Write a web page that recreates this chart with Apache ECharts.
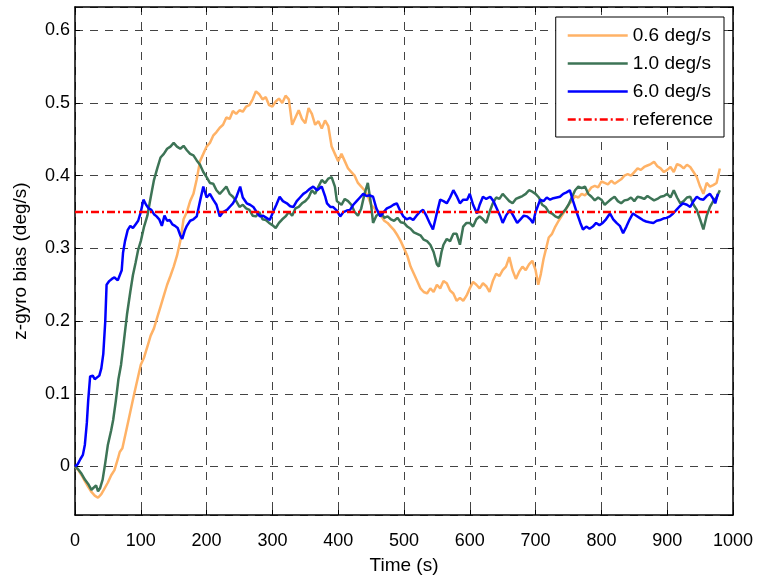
<!DOCTYPE html>
<html><head><meta charset="utf-8">
<script src="https://cdn.jsdelivr.net/npm/echarts@6/dist/echarts.min.js"></script>
<style>html,body{margin:0;padding:0;background:#fff}#c{width:757px;height:580px}</style>
</head><body><div id="c"></div>
<script>
const xTicks = [0,100,200,300,400,500,600,700,800,900,1000];
const yTicks = [0,0.1,0.2,0.3,0.4,0.5,0.6];
const seriesNames = ['0.6 deg/s','1.0 deg/s','6.0 deg/s','reference'];

const tOrange = [0,5,10,15,20,25,30,35,40,45,50,55,60,65,68,72,78,84,90,95,100,105,110,115,120,125,130,135,140,145,150,155,160,165,170,175,180,185,190,195,200,205,210,215,220,225,230,235,240,245,250,255,260,265,270,275,280,285,290,295,300,305,310,315,320,325,330,335,340,345,350,355,360,365,370,375,380,385,390,395,400,405,410,415,420,425,430,435,440,445,450,455,460,465,470,475,480,485,490,495,500,505,510,515,520,525,530,535,540,545,550,555,560,565,570,575,580,585,590,595,600,605,610,615,620,625,630,635,640,645,650,655,660,665,670,675,680,685,690,695,700,704,708,712,716,720,725,730,735,740,745,750,755,760,765,770,775,780,785,790,795,800,805,810,815,820,825,830,835,840,845,850,855,860,865,870,875,880,885,890,895,900,905,910,915,920,925,930,935,940,945,950,955,960,965,970,975,980];
const vOrange = [0,-0.005,-0.012,-0.02,-0.028,-0.035,-0.04,-0.043,-0.038,-0.03,-0.022,-0.012,-0.005,0.01,0.02,0.025,0.05,0.075,0.1,0.12,0.14,0.15,0.165,0.18,0.19,0.205,0.22,0.235,0.25,0.262,0.275,0.29,0.31,0.34,0.35,0.365,0.375,0.395,0.42,0.43,0.44,0.445,0.455,0.46,0.466,0.47,0.48,0.478,0.489,0.485,0.49,0.488,0.495,0.497,0.505,0.516,0.512,0.505,0.508,0.497,0.495,0.502,0.506,0.5,0.51,0.505,0.47,0.48,0.49,0.478,0.472,0.493,0.485,0.47,0.475,0.465,0.476,0.468,0.44,0.43,0.42,0.43,0.42,0.41,0.405,0.4,0.39,0.385,0.38,0.372,0.36,0.355,0.35,0.345,0.338,0.335,0.33,0.325,0.318,0.31,0.3,0.29,0.275,0.265,0.255,0.245,0.24,0.238,0.245,0.24,0.25,0.245,0.255,0.252,0.242,0.238,0.228,0.232,0.228,0.235,0.245,0.254,0.25,0.245,0.252,0.248,0.24,0.255,0.265,0.262,0.27,0.275,0.288,0.27,0.258,0.268,0.275,0.27,0.278,0.283,0.27,0.25,0.265,0.285,0.3,0.315,0.32,0.33,0.338,0.345,0.352,0.36,0.365,0.372,0.37,0.375,0.373,0.378,0.384,0.386,0.384,0.392,0.39,0.388,0.393,0.389,0.392,0.395,0.4,0.402,0.4,0.405,0.41,0.408,0.412,0.414,0.416,0.419,0.413,0.41,0.405,0.408,0.412,0.405,0.416,0.414,0.41,0.415,0.412,0.405,0.398,0.385,0.375,0.39,0.385,0.387,0.39,0.41];

const tGreen = [0,5,10,15,20,25,28,32,35,38,42,46,50,55,58,62,66,70,74,79,84,88,92,96,100,105,110,115,120,125,130,135,140,145,150,155,160,165,170,175,180,185,190,195,200,205,210,215,220,225,230,235,240,245,250,255,260,265,270,275,280,285,290,295,300,305,310,315,320,325,330,335,340,345,350,355,360,365,370,375,380,385,390,395,398,405,410,415,420,425,430,435,440,445,450,453,458,465,470,475,480,485,490,495,500,505,510,515,520,525,530,535,540,545,550,553,557,560,565,570,575,580,585,590,595,600,605,610,615,620,625,630,635,640,645,650,655,660,665,670,675,680,685,690,695,700,705,710,715,720,725,730,735,740,745,750,755,760,765,770,775,780,785,790,795,800,805,810,815,820,825,830,835,840,845,850,855,860,865,870,875,880,885,890,895,900,905,910,915,920,925,930,935,940,945,950,955,960,965,970,975,980];
const vGreen = [0,-0.004,-0.01,-0.018,-0.024,-0.032,-0.033,-0.026,-0.034,-0.03,-0.018,0.005,0.03,0.05,0.064,0.09,0.12,0.14,0.17,0.209,0.24,0.263,0.28,0.298,0.31,0.33,0.345,0.37,0.394,0.41,0.425,0.43,0.437,0.44,0.445,0.44,0.437,0.441,0.435,0.43,0.428,0.421,0.415,0.405,0.398,0.39,0.389,0.38,0.375,0.38,0.385,0.375,0.371,0.365,0.357,0.36,0.355,0.353,0.345,0.344,0.35,0.34,0.339,0.335,0.332,0.328,0.335,0.34,0.344,0.35,0.345,0.355,0.357,0.362,0.365,0.37,0.38,0.375,0.385,0.394,0.39,0.396,0.398,0.385,0.365,0.36,0.368,0.365,0.36,0.35,0.345,0.355,0.375,0.39,0.36,0.335,0.345,0.35,0.342,0.344,0.34,0.338,0.342,0.336,0.335,0.33,0.327,0.322,0.32,0.318,0.312,0.31,0.305,0.295,0.278,0.275,0.295,0.305,0.313,0.31,0.32,0.32,0.305,0.33,0.335,0.335,0.33,0.34,0.344,0.34,0.335,0.35,0.362,0.37,0.368,0.375,0.37,0.365,0.362,0.368,0.37,0.372,0.375,0.38,0.378,0.375,0.37,0.36,0.357,0.35,0.348,0.344,0.342,0.348,0.353,0.36,0.37,0.38,0.385,0.383,0.385,0.375,0.371,0.366,0.37,0.367,0.36,0.364,0.368,0.371,0.365,0.362,0.366,0.367,0.37,0.365,0.371,0.37,0.368,0.372,0.369,0.366,0.368,0.371,0.372,0.375,0.37,0.38,0.37,0.362,0.365,0.37,0.371,0.36,0.353,0.34,0.326,0.345,0.357,0.365,0.37,0.38];

const tBlue = [0,4,8,12,15,18,20,23,27,30,33,37,40,43,46,48,52,56,60,65,68,71,73,76,80,84,88,92,96,100,104,108,112,116,120,124,128,132,136,140,144,148,152,156,160,163,167,170,175,180,185,190,195,200,205,210,215,220,225,231,236,240,245,251,255,261,266,271,276,281,286,291,296,301,306,311,316,322,327,332,337,342,347,352,357,362,368,375,380,383,388,392,398,403,408,413,418,423,428,433,438,443,448,453,458,464,469,474,479,484,489,494,499,504,509,514,519,524,529,534,539,544,549,555,560,565,570,575,580,585,590,596,600,605,611,615,620,625,631,636,641,646,650,655,661,666,672,677,682,687,692,696,700,707,712,717,722,727,732,737,742,747,752,757,763,768,772,777,782,787,792,797,802,807,813,818,823,828,833,838,843,848,853,858,863,868,873,879,884,889,894,899,904,909,914,919,924,930,935,940,945,950,955,960,965,970,973,977];
const vBlue = [0,0.003,0.01,0.016,0.03,0.06,0.09,0.124,0.125,0.12,0.118,0.125,0.135,0.155,0.2,0.25,0.255,0.258,0.26,0.256,0.254,0.27,0.294,0.31,0.325,0.331,0.328,0.333,0.338,0.35,0.367,0.36,0.355,0.353,0.347,0.344,0.34,0.331,0.345,0.338,0.339,0.333,0.331,0.328,0.318,0.313,0.325,0.331,0.338,0.34,0.344,0.365,0.385,0.37,0.375,0.367,0.36,0.344,0.35,0.353,0.358,0.362,0.37,0.385,0.37,0.362,0.36,0.357,0.35,0.344,0.345,0.342,0.339,0.35,0.36,0.371,0.365,0.362,0.358,0.357,0.365,0.37,0.375,0.378,0.382,0.385,0.38,0.385,0.372,0.362,0.357,0.357,0.352,0.344,0.35,0.352,0.353,0.36,0.365,0.37,0.375,0.372,0.373,0.371,0.355,0.344,0.35,0.355,0.357,0.36,0.362,0.352,0.344,0.34,0.342,0.339,0.345,0.35,0.353,0.345,0.335,0.326,0.345,0.367,0.365,0.362,0.37,0.38,0.372,0.362,0.367,0.367,0.375,0.36,0.348,0.36,0.371,0.368,0.371,0.365,0.355,0.345,0.335,0.345,0.353,0.345,0.335,0.34,0.345,0.344,0.34,0.335,0.35,0.367,0.365,0.37,0.367,0.369,0.37,0.371,0.375,0.377,0.38,0.365,0.348,0.335,0.326,0.33,0.327,0.33,0.335,0.332,0.335,0.34,0.348,0.34,0.335,0.331,0.321,0.33,0.34,0.348,0.345,0.342,0.339,0.337,0.336,0.335,0.338,0.339,0.341,0.342,0.344,0.348,0.353,0.358,0.362,0.36,0.357,0.365,0.371,0.368,0.367,0.372,0.375,0.368,0.362,0.375];

const tRef = [0,978];
const vRef = [0.35,0.35];

const zip = (t,v) => t.map((x,i)=>[x,v[i]]);
const FONT = 'Liberation Sans, Arial, sans-serif';
const chart = echarts.init(document.getElementById('c'), null, {renderer:'canvas'});
const gridDash = {color:'#444', type:[8,7], width:1};
const lineSeries = (name, data, color, extra) => Object.assign({
  name, type:'line', data, showSymbol:false, symbol:'none', animation:false,
  lineStyle:{color, width:2.5}, itemStyle:{color}, z:3
}, extra||{});
const boxLine = {show:true, onZero:false, lineStyle:{color:'#000', width:1.5}};
const tick = {show:true, inside:true, length:5, lineStyle:{color:'#000'}};
const solidIcon = 'path://M0,0h60v2.6H0z';
const dashDotIcon = 'path://M0,0h8v2.6H0zM11,0h2v2.6h-2zM16,0h8v2.6h-8zM27,0h2v2.6h-2zM32,0h8v2.6h-8zM43,0h2v2.6h-2zM48,0h8v2.6h-8zM59,0h1v2.6h-1z';

chart.setOption({
  animation:false,
  backgroundColor:'#fff',
  grid:{left:75, right:24, top:7, bottom:56, containLabel:false},
  legend:{
    orient:'vertical', right:33, top:17,
    data:seriesNames.map((n,i)=>({name:n, icon: i===3 ? dashDotIcon : solidIcon})),
    itemWidth:60, itemHeight:14, itemGap:9,
    padding:[9,11,8,12],
    borderColor:'#000', borderWidth:1, backgroundColor:'#fff',
    textStyle:{fontFamily:FONT, fontSize:19, color:'#000'}
  },
  xAxis:[{
    type:'value', min:0, max:1000, interval:100,
    name:'Time (s)', nameLocation:'middle', nameGap:41,
    nameTextStyle:{fontFamily:FONT, fontSize:19, color:'#000'},
    axisLine:boxLine, axisTick:tick,
    axisLabel:{fontFamily:FONT, fontSize:18, color:'#000', margin:17,
      formatter:v=>xTicks.includes(v)?String(v):''},
    splitLine:{show:true, lineStyle:gridDash}
  },{
    type:'value', position:'top', min:0, max:1000, interval:100,
    axisLine:boxLine, axisTick:tick,
    axisLabel:{show:false}, splitLine:{show:false}
  }],
  yAxis:[{
    type:'value', min:-0.0667, max:0.632, splitNumber:7,
    name:'z-gyro bias (deg/s)', nameLocation:'middle', nameGap:45,
    nameTextStyle:{fontFamily:FONT, fontSize:19, color:'#000'},
    axisLine:boxLine, axisTick:tick,
    axisLabel:{fontFamily:FONT, fontSize:18, color:'#000', margin:5,
      showMinLabel:false, showMaxLabel:false,
      formatter:v=>{const k=yTicks.find(y=>Math.abs(y-v)<1e-6);return k===undefined?'':String(k);}},
    splitLine:{show:true, lineStyle:gridDash}
  },{
    type:'value', position:'right', min:-0.0667, max:0.632, splitNumber:7,
    axisLine:boxLine, axisTick:tick,
    axisLabel:{show:false}, splitLine:{show:false}
  }],
  series:[
    lineSeries(seriesNames[0], zip(tOrange,vOrange), '#ffb266'),
    lineSeries(seriesNames[1], zip(tGreen,vGreen), '#3d7456'),
    lineSeries(seriesNames[2], zip(tBlue,vBlue), '#0000ff'),
    lineSeries(seriesNames[3], zip(tRef,vRef), '#ff0000', {lineStyle:{color:'#ff0000', width:2.5, type:[8,3,2,3]}, z:4})
  ]
});
</script></body></html>
